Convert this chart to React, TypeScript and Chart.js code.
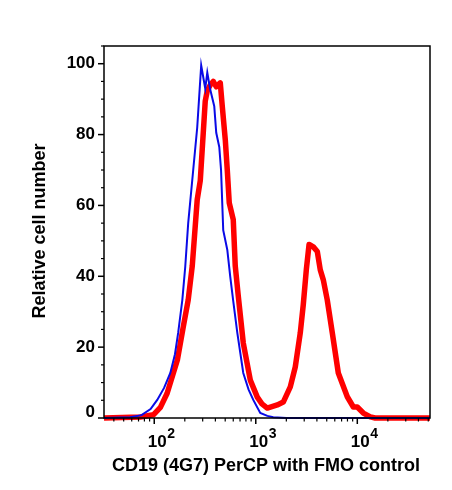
import React, { useEffect, useRef } from 'react';
import { Chart, registerables } from 'chart.js';

Chart.register(...registerables);

// FMO control histogram (blue): fluorescence intensity vs relative cell number
const fmoIntensity = [32, 58, 75, 92, 107, 125, 144, 160, 172, 189, 202, 216, 242, 265, 290, 318, 333, 356, 390, 408, 437, 455, 478, 524, 560, 600, 658, 753, 850, 945, 1107, 1300, 1486, 2000, 52000];
const fmoCount = [0, 0.2, 0.8, 2.5, 5.1, 8.5, 12.7, 18, 24, 33.3, 42.7, 55, 70, 82, 99.5, 93, 97.5, 92.7, 88, 80.5, 76.5, 70, 53, 47.5, 40, 33, 24, 12.7, 8, 5.1, 1.4, 0.6, 0.2, 0, 0];

// CD19 (4G7) PerCP stained histogram (red)
const cd19Intensity = [32, 73, 98, 115, 134, 169, 193, 216, 237, 265, 284, 318, 333, 356, 381, 408, 447, 468, 501, 524, 548, 600, 628, 672, 753, 883, 1035, 1150, 1298, 1629, 1866, 2188, 2449, 2743, 2937, 3150, 3350, 3689, 4036, 4318, 4624, 5060, 5675, 6500, 7967, 9139, 10000, 11460, 13430, 15000, 52000];
const cd19Count = [0, 0.3, 0.9, 3, 7, 16.4, 25.7, 33.3, 43, 61.6, 67, 89.5, 92.4, 94, 95, 93.5, 94.6, 87.9, 78.5, 70, 60.7, 56, 42.9, 34.5, 21.2, 10.7, 5.9, 4, 2.8, 3.7, 4.5, 8.8, 14.4, 24, 32, 42, 49, 48.3, 47, 41.8, 39, 33.3, 24, 12.7, 6, 3.1, 3.1, 1.4, 0.3, 0, 0];

// Axis ticks
const yMajorTicks = [0, 20, 40, 60, 80, 100];
const yMinorTicks = [5, 10, 15, 25, 30, 35, 45, 50, 55, 65, 70, 75, 85, 90, 95, 105];
const xLabelExponents = [2, 3, 4];
const xDecadeExponents = [1, 2, 3, 4];
const xMinorMultipliers = [2, 3, 4, 5, 6, 7, 8, 9];

const xTitle = 'CD19 (4G7) PerCP with FMO control';
const yTitle = 'Relative cell number';

const FONT = '"Liberation Sans", Arial, Helvetica, sans-serif';

const toPoints = (xs: number[], ys: number[]) => xs.map((x, i) => ({ x, y: ys[i] }));

// Draws the framed axes, outward ticks, superscript decade labels and titles
const flowAxes = {
  id: 'flowAxes',
  afterDraw(chart: any) {
    const { ctx, chartArea: a, scales } = chart;
    const xs = scales.x;
    const ys = scales.y;
    ctx.save();
    ctx.strokeStyle = '#000';
    ctx.fillStyle = '#000';
    ctx.lineWidth = 1.5;
    ctx.strokeRect(a.left, a.top, a.right - a.left, a.bottom - a.top);

    const tick = (x1: number, y1: number, x2: number, y2: number) => {
      ctx.beginPath();
      ctx.moveTo(x1, y1);
      ctx.lineTo(x2, y2);
      ctx.stroke();
    };

    // y axis
    ctx.lineWidth = 1.2;
    yMinorTicks.forEach((v) => {
      const y = ys.getPixelForValue(v);
      if (y >= a.top && y <= a.bottom) tick(a.left - 3, y, a.left, y);
    });
    ctx.lineWidth = 1.5;
    ctx.font = `bold 17px ${FONT}`;
    ctx.textAlign = 'right';
    ctx.textBaseline = 'middle';
    yMajorTicks.forEach((v) => {
      const y = ys.getPixelForValue(v);
      tick(a.left - 6, y, a.left, y);
      ctx.fillText(String(v), a.left - 9, v === 0 ? y - 6 : y);
    });

    // x axis (log decades)
    ctx.lineWidth = 1.2;
    xDecadeExponents.forEach((e) => {
      xMinorMultipliers.forEach((m) => {
        const v = m * Math.pow(10, e);
        if (v < xs.min || v > xs.max) return;
        const x = xs.getPixelForValue(v);
        tick(x, a.bottom, x, a.bottom + 3.5);
      });
    });
    ctx.lineWidth = 1.5;
    ctx.textBaseline = 'alphabetic';
    xLabelExponents.forEach((e) => {
      const x = xs.getPixelForValue(Math.pow(10, e));
      tick(x, a.bottom, x, a.bottom + 6);
      ctx.font = `bold 17px ${FONT}`;
      ctx.textAlign = 'center';
      const baseX = x + 3;
      ctx.fillText('10', baseX, a.bottom + 29);
      const w = ctx.measureText('10').width;
      ctx.font = `bold 14px ${FONT}`;
      ctx.textAlign = 'left';
      ctx.fillText(String(e), baseX + w / 2 + 0.5, a.bottom + 20);
    });

    // titles
    ctx.font = `bold 18px ${FONT}`;
    ctx.textAlign = 'center';
    ctx.fillText(xTitle, 258, a.bottom + 53);
    ctx.save();
    ctx.translate(32, 223);
    ctx.rotate(-Math.PI / 2);
    ctx.textBaseline = 'middle';
    ctx.fillText(yTitle, 0, 0);
    ctx.restore();
    ctx.restore();
  },
};

export default function App() {
  const canvasRef = useRef<HTMLCanvasElement | null>(null);

  useEffect(() => {
    if (!canvasRef.current) return;
    const chart = new Chart(canvasRef.current, {
      type: 'line',
      data: {
        datasets: [
          {
            label: 'FMO control',
            data: toPoints(fmoIntensity, fmoCount),
            borderColor: '#0a0ae6',
            borderWidth: 2,
            pointRadius: 0,
            tension: 0,
            fill: false,
            order: 0,
            clip: false as any,
          },
          {
            label: 'CD19 (4G7) PerCP',
            data: toPoints(cd19Intensity, cd19Count),
            borderColor: '#ff0000',
            borderWidth: 5.5,
            pointRadius: 0,
            tension: 0,
            fill: false,
            order: 1,
            borderJoinStyle: 'round',
            clip: false as any,
          },
        ],
      },
      options: {
        responsive: false,
        animation: false,
        layout: { padding: { left: 96, top: 38, right: 14, bottom: 64 } },
        plugins: { legend: { display: false }, tooltip: { enabled: false } },
        scales: {
          x: { type: 'logarithmic', min: 32, max: 52000, display: false },
          y: { type: 'linear', min: 0, max: 105, display: false },
        },
      },
      plugins: [flowAxes],
    });
    return () => chart.destroy();
  }, []);

  return (
    <div style={{ width: 436, height: 474 }}>
      <canvas ref={canvasRef} width={436} height={474} />
    </div>
  );
}
